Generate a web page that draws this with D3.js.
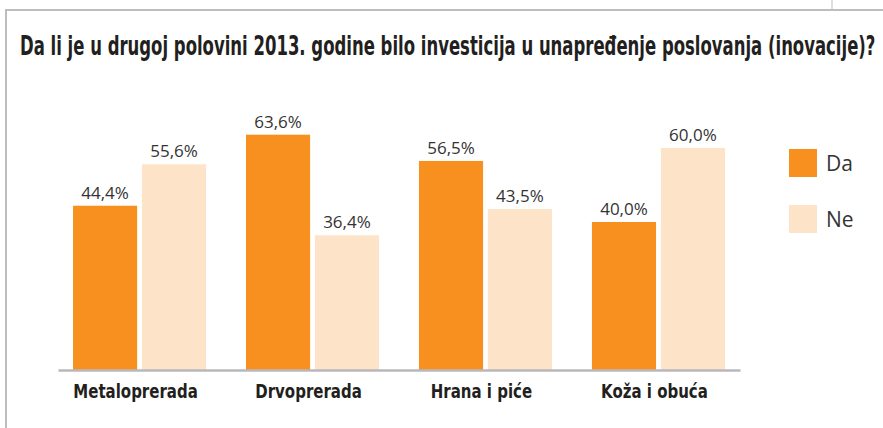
<!DOCTYPE html>
<html><head><meta charset="utf-8">
<script src="https://cdn.jsdelivr.net/npm/d3@7"></script>
<style>
html,body{margin:0;padding:0;background:#fff;}
svg{display:block;}
.cond{font-family:'DejaVu Sans',sans-serif;font-weight:bold;}
</style></head>
<body>
<script>
const categories = ["Metaloprerada", "Drvoprerada", "Hrana i piće", "Koža i obuća"];
const seriesNames = ["Da", "Ne"];
const daValues = [44.4, 63.6, 56.5, 40.0];
const neValues = [55.6, 36.4, 43.5, 60.0];
const colors = ["#F7901E", "#FDE3C7"];
const title = "Da li je u drugoj polovini 2013. godine bilo investicija u unapređenje poslovanja (inovacije)?";

const W = 883, H = 428;
const svg = d3.select("body").append("svg").attr("width", W).attr("height", H);

// frame
svg.append("path").attr("d", `M6,${H} V10 H${W}`).attr("fill","none").attr("stroke","#bdbdbd").attr("stroke-width",2);
svg.append("line").attr("x1",832).attr("x2",832).attr("y1",0).attr("y2",9).attr("stroke","#bdbdbd").attr("stroke-width",1);

// title, horizontally condensed to fit
const tg = svg.append("g");
const tt = tg.append("text").attr("class","cond").attr("x",0).attr("y",0)
  .attr("font-size",27).attr("fill","#231f20").text(title);
const tw = tt.node().getComputedTextLength();
tg.attr("transform", `translate(20,55) scale(${856/tw},1)`);

const rows = categories.map((c,i)=>({cat:c, vals:[daValues[i], neValues[i]]}));

const x0 = d3.scaleBand().domain(categories).range([58,740]).paddingInner(0.231).paddingOuter(0.087);
const x1 = d3.scaleBand().domain(seriesNames).range([0,x0.bandwidth()]).paddingInner(0.07);
const y = d3.scaleLinear().domain([0,100]).range([370,0]);
const color = d3.scaleOrdinal().domain(seriesNames).range(colors);

const g = svg.selectAll("g.grp").data(rows).join("g").attr("class","grp")
  .attr("transform", d=>`translate(${x0(d.cat)},0)`);

const items = g.selectAll("g.bar").data(d=>seriesNames.map((s,j)=>({s, v:d.vals[j]}))).join("g").attr("class","bar");
items.append("rect")
  .attr("x", d=>x1(d.s)).attr("width", x1.bandwidth())
  .attr("y", d=>y(d.v)).attr("height", d=>y(0)-y(d.v))
  .attr("fill", d=>color(d.s));
items.append("text")
  .attr("x", d=>x1(d.s)+x1.bandwidth()/2).attr("y", d=>y(d.v)-7)
  .attr("text-anchor","middle")
  .attr("font-family","'Open Sans', sans-serif").attr("font-size",17).attr("fill","#333")
  .text(d=>d.v.toFixed(1).replace(".",",")+"%");

// axis
const axis = svg.append("g").attr("transform","translate(0,370)")
  .call(d3.axisBottom(x0).tickSize(0).tickPadding(0).tickSizeOuter(0));
axis.select(".domain").attr("stroke","#b8b8bc").attr("stroke-width",2.5);
axis.selectAll(".tick text")
  .attr("class","cond")
  .attr("x", 0).attr("y", 0).attr("dy", 0)
  .attr("transform","translate(-4,28) scale(0.75,1)")
  .attr("font-size",20).attr("fill","#231f20");

// legend
const lg = svg.append("g").selectAll("g").data(seriesNames).join("g")
  .attr("transform",(d,i)=>`translate(789,${149+i*56})`);
lg.append("rect").attr("width",28).attr("height",28).attr("fill",d=>color(d));
lg.append("text").attr("x",37).attr("y",22)
  .attr("font-family","'Open Sans', sans-serif").attr("font-size",21).attr("fill","#333")
  .text(d=>d);
</script>
</body></html>
